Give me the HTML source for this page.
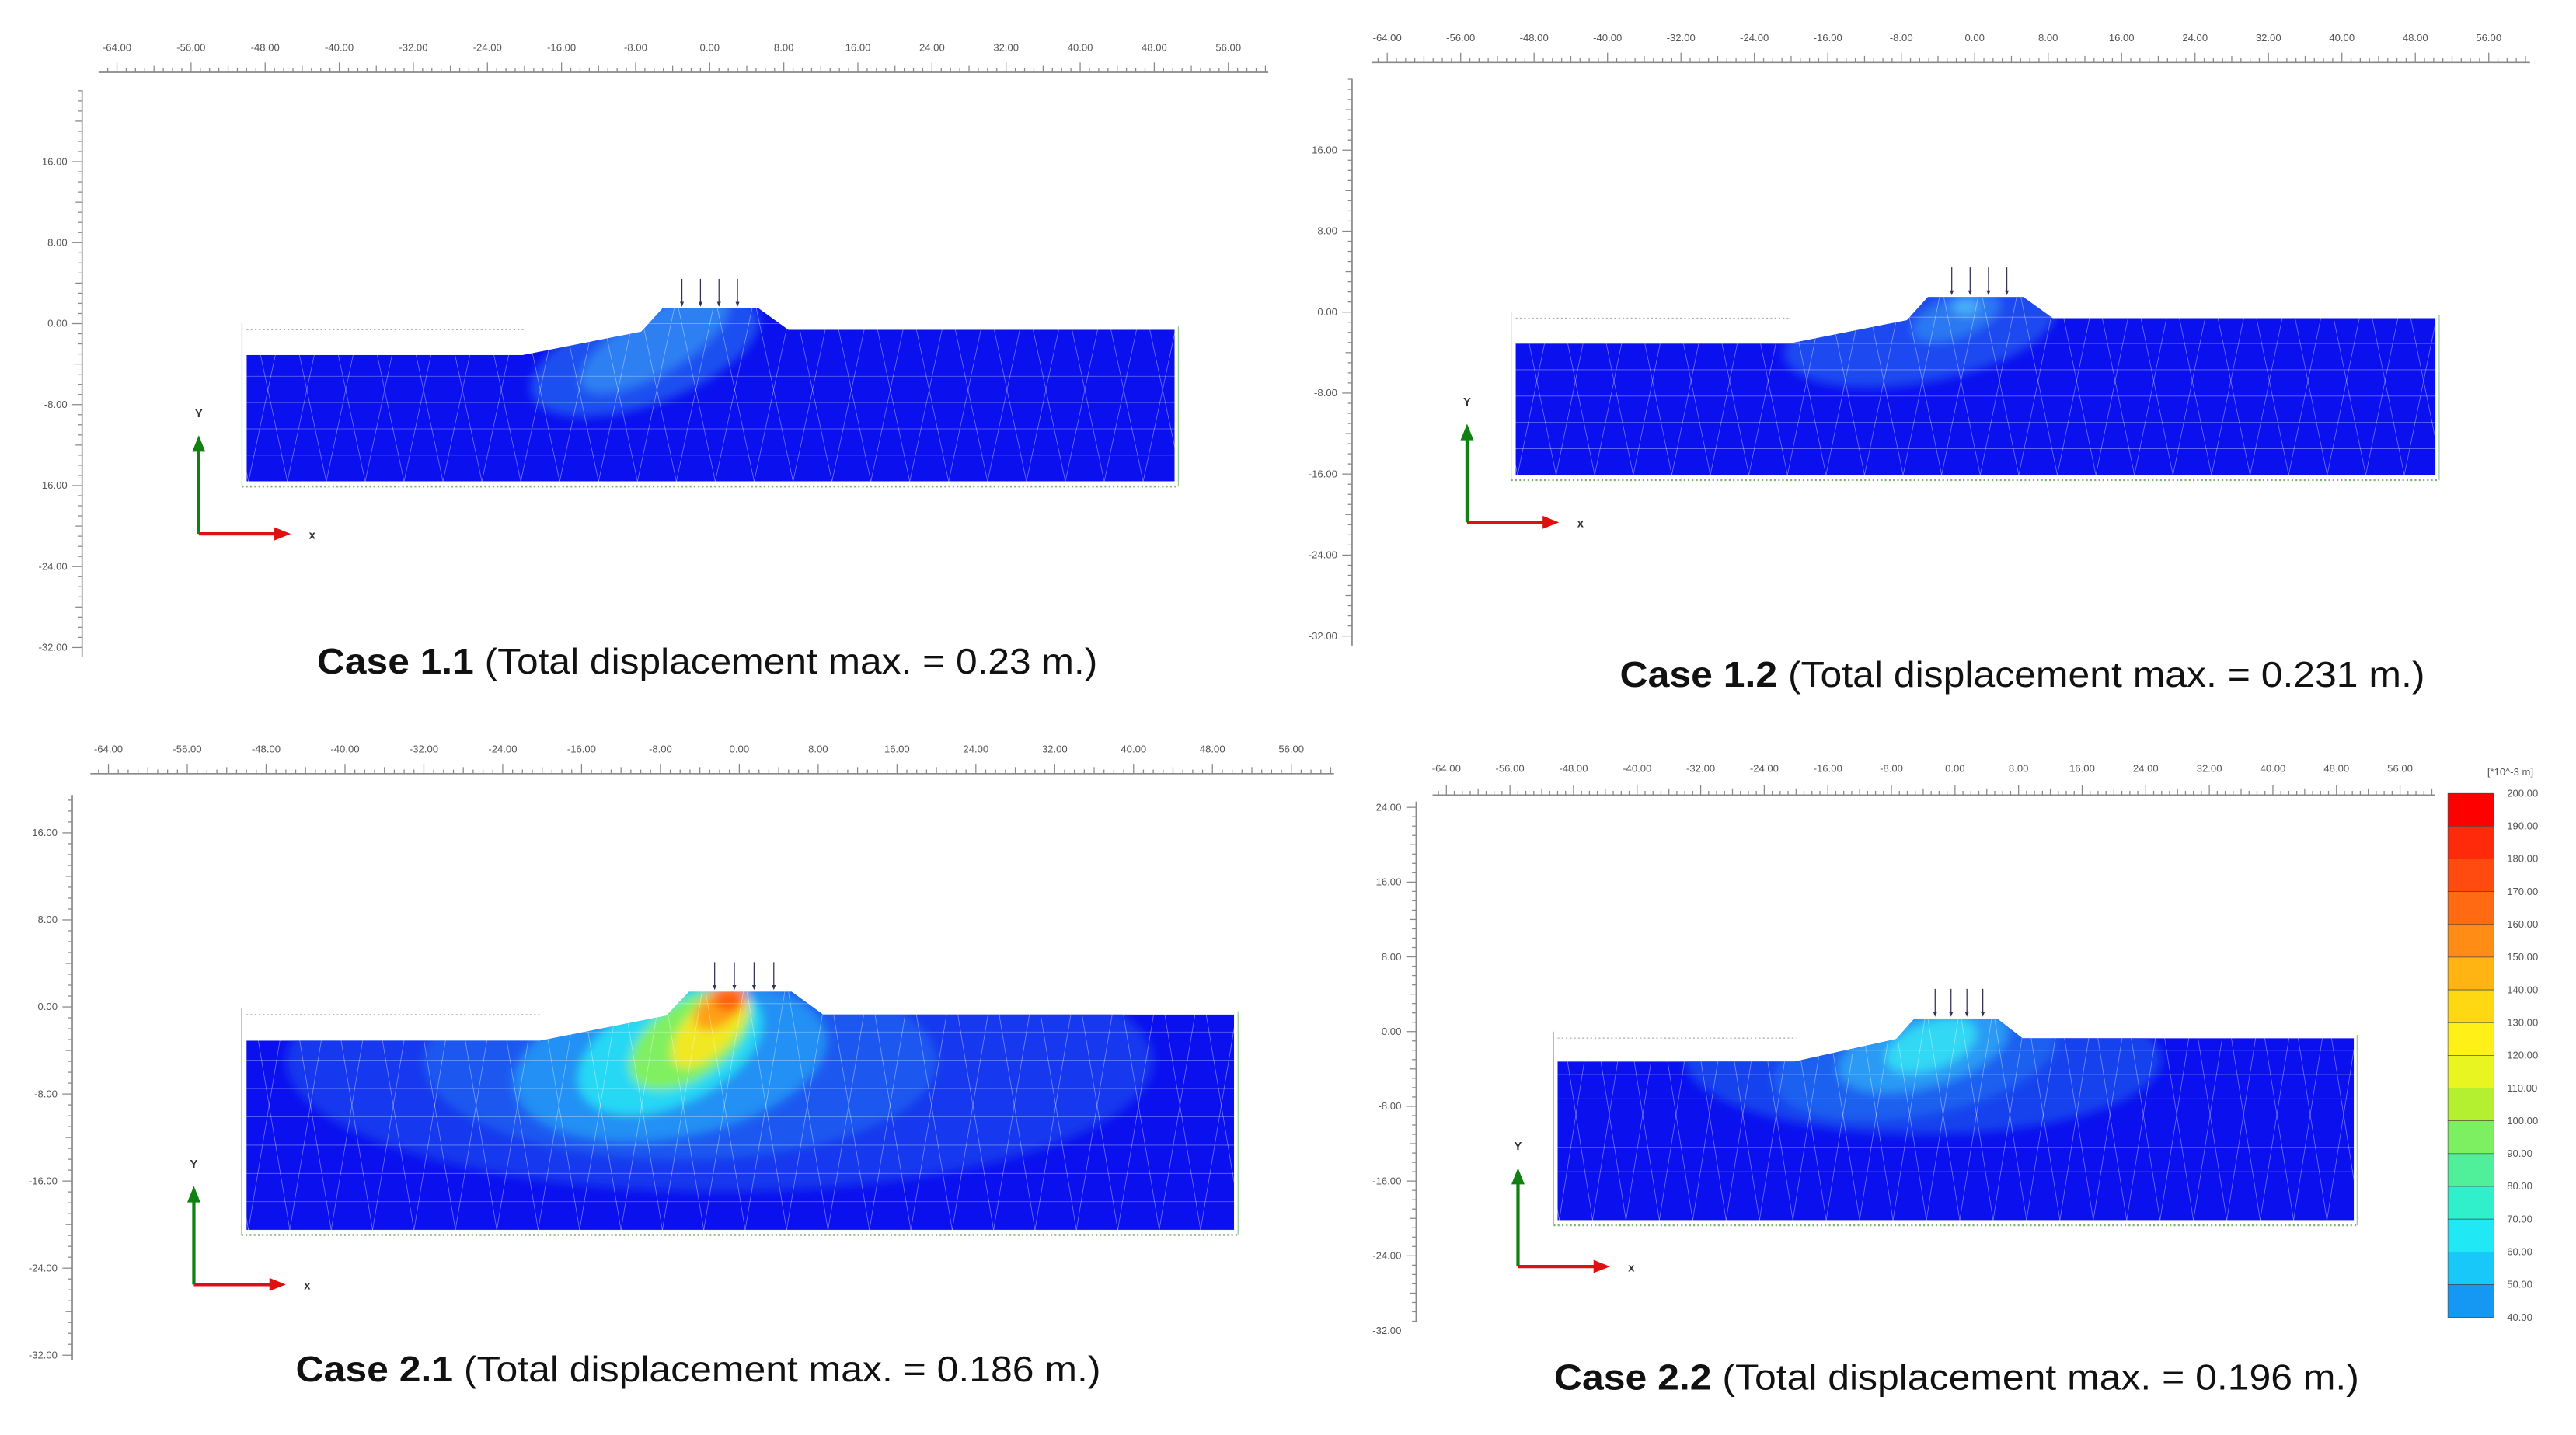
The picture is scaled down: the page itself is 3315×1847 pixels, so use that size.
<!DOCTYPE html>
<html><head><meta charset="utf-8">
<style>
html,body{margin:0;padding:0;background:#fff;}
svg{display:block;}
text{font-family:"Liberation Sans",sans-serif;}
</style></head>
<body>
<svg id="fig" width="3315" height="1847" viewBox="0 0 1568 873.6" preserveAspectRatio="none" xmlns="http://www.w3.org/2000/svg">
<defs>
<filter id="blur" x="-20%" y="-20%" width="140%" height="140%"><feGaussianBlur stdDeviation="3"/></filter>
</defs>
</svg>
<script>
// ---- data arrays ----
const xTickValues = [-64,-56,-48,-40,-32,-24,-16,-8,0,8,16,24,32,40,48,56];
const yTickValues1 = [16,8,0,-8,-16,-24,-32];
const yTickValues4 = [24,16,8,0,-8,-16,-24,-32];
const caseNames = ["Case 1.1","Case 1.2","Case 2.1","Case 2.2"];
const caseMaxDisp = ["0.23","0.231","0.186","0.196"];
const legendValues = [200,190,180,170,160,150,140,130,120,110,100,90,80,70,60,50,40];
const legendColors = ["#ff0000","#ff2a0a","#ff4a10","#ff6a12","#ff8c14","#ffb414","#ffd814","#fff018","#e8f520","#b4f030","#7cf060","#50f09a","#30f0cc","#20e8f4","#18c8f8","#1498f4","#1470ee"];
// Panel layout (pixel mapping for each panel's axes)
const panels = [
 {x0:432, sx:45.1/8, y0:197, sy:49.3/8, rulerY:44, rulerLblY:31, yAxisX:50, yTop:55, yBot:400, xL:60, xR:772, yt:yTickValues1, rightTop:-0.6, leftTop:-3.1, bottom:-15.6, crest:1.5, axX:121, axY:325, capL:193, capW:475, capY:410, plume:0},
 {x0:1202, sx:44.7/8, y0:190, sy:49.3/8, rulerY:38, rulerLblY:25, yAxisX:823, yTop:48, yBot:393, xL:835, xR:1540, yt:yTickValues1, rightTop:-0.6, leftTop:-3.1, bottom:-16.1, crest:1.5, axX:893, axY:318, capL:986, capW:490, capY:418, plume:1},
 {x0:450, sx:48/8, y0:613, sy:53/8, rulerY:471, rulerLblY:458, yAxisX:44, yTop:484, yBot:828, xL:55, xR:812, yt:yTickValues1, rightTop:-0.7, leftTop:-3.1, bottom:-20.5, crest:1.4, axX:118, axY:782, capL:180, capW:490, capY:841, plume:3},
 {x0:1190, sx:38.7/8, y0:628, sy:45.5/8, rulerY:484, rulerLblY:470, yAxisX:862, yTop:488, yBot:805, xL:872, xR:1482, yt:yTickValues4, rightTop:-0.7, leftTop:-3.2, bottom:-20.2, crest:1.4, axX:924, axY:771, capL:946, capW:490, capY:846, plume:2}
];
const svg = document.getElementById('fig');
const NS = 'http://www.w3.org/2000/svg';
function el(tag, attrs, parent){const e=document.createElementNS(NS,tag);for(const k in attrs)e.setAttribute(k,attrs[k]);(parent||svg).appendChild(e);return e;}

panels.forEach((p,i)=>{
 const X=v=>p.x0+v*p.sx, Y=v=>p.y0-v*p.sy;
 const g=el('g',{});
 
 
 const rx=el('g',{},g);
 
 
 el('line',{x1:p.xL,x2:p.xR,y1:p.rulerY,y2:p.rulerY,stroke:'#888','stroke-width':0.8},rx);
 for(let v=-68;v<=62;v++){const x=X(v);if(x<p.xL||x>p.xR)continue;const big=v%8===0,mid=v%4===0;
  el('line',{x1:x,x2:x,y1:p.rulerY,y2:p.rulerY-(big?6:mid?4:2.5),stroke:'#888','stroke-width':0.6},rx);}
 xTickValues.forEach(v=>{const t=el('text',{x:X(v),y:p.rulerLblY,'font-size':6.2,fill:'#555','text-anchor':'middle'},rx);t.textContent=v.toFixed(2);
  });
 const ry=el('g',{},g);
 
 
 el('line',{x1:p.yAxisX,x2:p.yAxisX,y1:p.yTop,y2:p.yBot,stroke:'#888','stroke-width':0.8},ry);
 for(let v=-40;v<=30;v++){const y=Y(v);if(y<p.yTop||y>p.yBot)continue;const big=v%8===0,mid=v%4===0;
  el('line',{x1:p.yAxisX,x2:p.yAxisX-(big?6:mid?4:2.5),y1:y,y2:y,stroke:'#888','stroke-width':0.6},ry);}
 p.yt.forEach(v=>{const t=el('text',{x:p.yAxisX-9,y:Y(v)+2,'font-size':6.2,fill:'#555','text-anchor':'end'},ry);t.textContent=v.toFixed(2);
  });
 const pts=[[-50,p.bottom],[-50,p.leftTop],[-20.2,p.leftTop],[-7.4,-0.8],[-5.1,p.crest],[5.3,p.crest],[8.5,p.rightTop],[50.2,p.rightTop],[50.2,p.bottom]];
 const d='M'+pts.map(q=>X(q[0]).toFixed(1)+','+Y(q[1]).toFixed(1)).join('L')+'Z';
 const cid='clip'+i; const cp=el('clipPath',{id:cid},svg); el('path',{d:d},cp);
 const m=el('g',{'clip-path':'url(#'+cid+')'},g);
 
 
 el('path',{d:d,fill:'#0a10ee'},m);
 const cg=el('g',{filter:'url(#blur)'},m);
 const E=(cx,cy,rx_,ry_,fill,rot)=>el('ellipse',{cx:X(cx),cy:Y(cy),rx:rx_*p.sx,ry:ry_*p.sy,fill:fill,transform:'rotate('+(rot||0)+' '+X(cx)+' '+Y(cy)+')'},cg);
 if(p.plume===0){E(-7,-3,13,5,'#1e50f0',-20);E(-6,-2,9,3,'#2e80f2',-30);}
 if(p.plume===1){E(-6,-2,15,5,'#1c48f0',-10);E(-2,-0.5,5,2,'#2a78f2',-20);E(-1,0.5,1.5,0.8,'#4ab0f6',0);}
 if(p.plume===2){E(-4,-3,30,8,'#1442ee',0);E(-5,-3,18,6,'#1c60f0',-10);E(-4,-2,11,4,'#2a9af4',-15);E(-3,-1.5,6,2.5,'#30d8f4',-20);}
 if(p.plume===3){E(-2,-5,44,12,'#1438ee',0);E(-6,-5,26,9,'#1a58f0',0);E(-7,-5,16,7,'#2290f4',-10);E(-7,-4,10,5,'#28d8f4',-25);
  E(-5,-3,7,3.5,'#80f060',-35);E(-3,-2,5,2.2,'#f0e820',-45);E(-2,0,3,1.6,'#ffa014',-40);E(-1,0.6,1.6,1,'#ff6010',0);}
 const mg=el('g',{stroke:'#ffffff','stroke-opacity':0.4,'stroke-width':0.4,fill:'none'},m);
 const step=4.2;
 for(let yy=p.bottom;yy<=p.crest+1;yy+=2.6){el('line',{x1:X(-51),x2:X(51),y1:Y(yy),y2:Y(yy)},mg);}
 for(let xx=-54;xx<=54;xx+=step){el('line',{x1:X(xx),y1:Y(p.crest+1),x2:X(xx+step),y2:Y(p.bottom)},mg);el('line',{x1:X(xx+step),y1:Y(p.crest+1),x2:X(xx),y2:Y(p.bottom)},mg);}
 el('line',{x1:X(-50.5),x2:X(50.6),y1:Y(p.bottom)+3,y2:Y(p.bottom)+3,stroke:'#7fb070','stroke-width':1.2,'stroke-dasharray':'1 1.5'},g);
 el('line',{x1:X(-50.5),x2:X(-50.5),y1:Y(p.rightTop)-4,y2:Y(p.bottom)+3,stroke:'#9c9','stroke-width':0.6},g);
 el('line',{x1:X(50.6),x2:X(50.6),y1:Y(p.rightTop)-2,y2:Y(p.bottom)+3,stroke:'#9c9','stroke-width':0.6},g);
 el('line',{x1:X(-50),x2:X(-20),y1:Y(p.rightTop),y2:Y(p.rightTop),stroke:'#aab','stroke-width':0.6,'stroke-dasharray':'1 1.5'},g);
 const lg=el('g',{},g);
 
 
 [-2,0,2,4].forEach(v=>{const x=X(v+(i===0?-1:-0.5));el('line',{x1:x,x2:x,y1:Y(p.crest)-18,y2:Y(p.crest)-2,stroke:'#335','stroke-width':0.6},lg);
  el('path',{d:`M${x-1.2},${Y(p.crest)-4}L${x+1.2},${Y(p.crest)-4}L${x},${Y(p.crest)-1}Z`,fill:'#335'},lg);});
 const ax=p.axX, ay=p.axY;
 const ag=el('g',{},g);
 
 
 el('line',{x1:ax,x2:ax,y1:ay,y2:ay-52,stroke:'#108010','stroke-width':2},ag);
 el('path',{d:`M${ax-4},${ay-50}L${ax+4},${ay-50}L${ax},${ay-60}Z`,fill:'#108010'},ag);
 el('line',{x1:ax,x2:ax+48,y1:ay,y2:ay,stroke:'#e01010','stroke-width':2},ag);
 el('path',{d:`M${ax+46},${ay-4}L${ax+46},${ay+4}L${ax+56},${ay}Z`,fill:'#e01010'},ag);
 const ty=el('text',{x:ax,y:ay-71,'font-size':7,'font-weight':'bold','text-anchor':'middle',fill:'#333'},ag);ty.textContent='Y';
 const tx=el('text',{x:ax+69,y:ay+3,'font-size':7,'font-weight':'bold','text-anchor':'middle',fill:'#333'},ag);tx.textContent='x';
 const cap=el('text',{x:p.capL,y:p.capY,'font-size':22,fill:'#111',textLength:p.capW,lengthAdjust:'spacingAndGlyphs'},g);
 
 
 const b=el('tspan',{'font-weight':'bold'},cap);b.textContent=caseNames[i];
 const r=el('tspan',{},cap);r.textContent=' (Total displacement max. = '+caseMaxDisp[i]+' m.)';
});

const lg=el('g',{});


const lx=1490,lw=28,lt=483,lb=802,n=legendValues.length-1,bh=(lb-lt)/n;
for(let k=0;k<n;k++){const r=el('rect',{x:lx,y:lt+k*bh,width:lw,height:bh,fill:legendColors[k],stroke:'#444','stroke-width':0.3},lg);
 }
legendValues.forEach((v,k)=>{const t=el('text',{x:1526,y:lt+k*bh+2,'font-size':6.2,fill:'#555'},lg);t.textContent=v.toFixed(2);
 });
const ut=el('text',{x:1514,y:472,'font-size':6.2,fill:'#555'},lg);ut.textContent='[*10^-3 m]';
</script>
</body></html>
